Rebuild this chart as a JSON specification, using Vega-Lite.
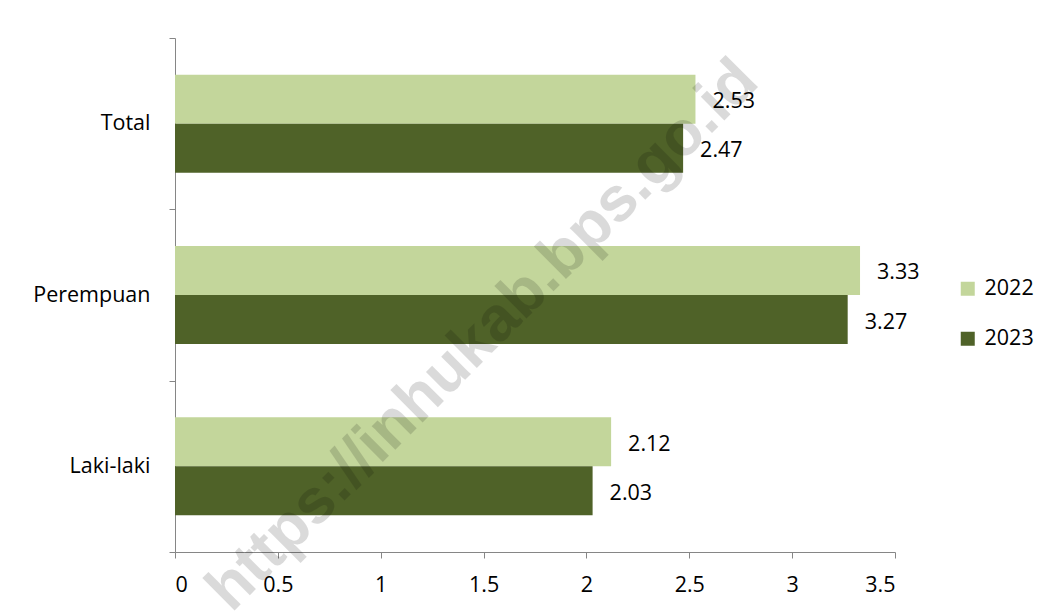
{
  "$schema": "https://vega.github.io/schema/vega-lite/v6.json",
  "width": 720,
  "height": 514,
  "autosize": {"type": "none"},
  "padding": {"left": 175, "top": 38, "right": 164, "bottom": 62},
  "background": "white",
  "config": {
    "view": {"stroke": null},
    "font": "Open Sans",
    "axis": {"domainColor": "#868686", "tickColor": "#868686", "labelColor": "#000000", "labelFontSize": 21.5, "labelFont": "Open Sans", "grid": false, "tickSize": 6, "title": null}
  },
  "data": {
    "values": [
      {"kategori": "Total", "tahun": "2022", "nilai": 2.53},
      {"kategori": "Total", "tahun": "2023", "nilai": 2.47},
      {"kategori": "Perempuan", "tahun": "2022", "nilai": 3.33},
      {"kategori": "Perempuan", "tahun": "2023", "nilai": 3.27},
      {"kategori": "Laki-laki", "tahun": "2022", "nilai": 2.12},
      {"kategori": "Laki-laki", "tahun": "2023", "nilai": 2.03}
    ]
  },
  "layer": [
    {
      "mark": {"type": "bar"},
      "encoding": {
        "y": {"field": "kategori", "type": "nominal", "sort": ["Total", "Perempuan", "Laki-laki"], "scale": {"paddingInner": 0, "paddingOuter": 0}, "axis": {"tickBand": "extent", "labelPadding": 19, "title": null}},
        "x": {"field": "nilai", "type": "quantitative", "scale": {"domain": [0, 3.5], "nice": false}, "axis": {"values": [0, 0.5, 1, 1.5, 2, 2.5, 3, 3.5], "format": "~g", "labelPadding": 16, "title": null}},
        "yOffset": {"field": "tahun", "type": "nominal", "sort": ["2022", "2023"], "scale": {"paddingInner": 0, "paddingOuter": 0.748}},
        "color": {"field": "tahun", "type": "nominal", "scale": {"domain": ["2022", "2023"], "range": ["#C3D69B", "#4F6228"]},
          "legend": {"title": null, "orient": "none", "legendX": 782, "legendY": 240, "symbolType": "square", "symbolSize": 196, "symbolStrokeWidth": 0, "symbolOpacity": 1, "labelFontSize": 21.5, "labelFont": "Open Sans", "labelColor": "#000000", "rowPadding": 27, "labelOffset": 6}}
      }
    },
    {
      "mark": {"type": "text", "align": "left", "baseline": "middle", "dx": 17, "dy": 3, "fontSize": 21.5, "color": "#000000"},
      "encoding": {
        "y": {"field": "kategori", "type": "nominal", "sort": ["Total", "Perempuan", "Laki-laki"]},
        "x": {"field": "nilai", "type": "quantitative"},
        "yOffset": {"field": "tahun", "type": "nominal", "sort": ["2022", "2023"]},
        "text": {"field": "nilai", "type": "quantitative", "format": ".2f"}
      }
    },
    {
      "data": {"values": [{"kategori": "Perempuan", "nilai": 1.3, "teks": "https://inhukab.bps.go.id"}]},
      "mark": {"type": "text", "align": "center", "baseline": "middle", "angle": 315, "dy": 57, "fontSize": 63, "font": "Liberation Sans", "fontWeight": "bold", "color": "#000000", "opacity": 0.14},
      "encoding": {
        "y": {"field": "kategori", "type": "nominal", "sort": ["Total", "Perempuan", "Laki-laki"]},
        "x": {"field": "nilai", "type": "quantitative"},
        "text": {"field": "teks"}
      }
    }
  ]
}
